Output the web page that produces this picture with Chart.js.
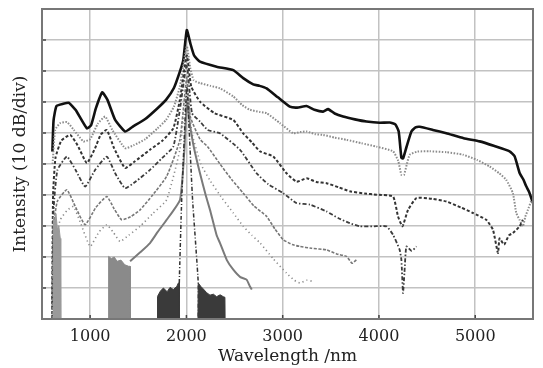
<!DOCTYPE html>
<html>
<head>
<meta charset="utf-8">
<script src="https://cdn.jsdelivr.net/npm/chart.js@4.4.1/dist/chart.umd.min.js"></script>
<style>
  body { margin: 0; background: #fff; }
</style>
</head>
<body>
<canvas id="spec" width="543" height="368"></canvas>
<script>
// tick positions (nm) and levels (10 dB per division)
const xTicks = [1000, 2000, 3000, 4000, 5000];
const yTicks = [0, 10, 20, 30, 40, 50, 60, 70, 80, 90, 100];

// spectra: [wavelength nm, level]
const curveA = [[608,54],[620,64],[650,68.7],[720,69.4],[780,69.7],[850,67.4],[966,61.5],[1010,62.5],[1060,68],[1125,73.1],[1180,70.7],[1260,64.2],[1363,60.5],[1440,62],[1572,64.5],[1700,68],[1788,70.7],[1870,74.5],[1932,79.8],[1968,83.6],[2004,93.2],[2040,89],[2080,85],[2141,83],[2314,81.4],[2487,80.3],[2590,77.7],[2694,75.7],[2760,75.2],[2833,74.4],[2950,71.5],[3074,68.5],[3150,68.2],[3248,68.7],[3330,67.5],[3420,66.9],[3472,67.7],[3540,66.3],[3628,65.3],[3750,64.4],[3870,63.7],[4008,63.3],[4112,63.4],[4170,62.8],[4205,60.5],[4233,52],[4250,51.8],[4285,55.4],[4337,60.5],[4380,61.8],[4423,62],[4560,61],[4700,59.9],[4880,58.3],[5046,57.3],[5200,55.8],[5357,54.1],[5409,52.5],[5461,47.1],[5500,45],[5530,42.8],[5560,41],[5600,37.4]];
const curveB = [[610,50],[637,61],[689,63.2],[760,63.5],[830,61],[931,57.3],[1000,58],[1080,63],[1156,65.3],[1230,61],[1363,55.1],[1450,56],[1572,58],[1700,61.5],[1788,64.2],[1870,68.5],[1932,75],[2004,88],[2040,81],[2076,77],[2141,76.1],[2250,75.2],[2349,74.4],[2487,71.8],[2580,69],[2660,67.5],[2760,66.8],[2833,66.4],[2971,63.2],[3109,59.9],[3180,60.3],[3248,60.5],[3340,59.6],[3420,59.4],[3540,58.5],[3663,57.8],[3820,56.7],[3974,55.6],[4146,54.1],[4200,51],[4233,46.5],[4260,46.5],[4290,50],[4320,53],[4400,54],[4527,54.1],[4700,53.8],[4873,53],[5020,51.3],[5149,49.2],[5250,47],[5322,44.9],[5391,40.6],[5426,34.2],[5460,32],[5495,29.9],[5520,33],[5547,35.2],[5580,38]];
const curveC = [[605,0],[615,40],[640,52],[700,57.5],[793,59.4],[870,56],[966,50.3],[1050,55],[1110,59.5],[1173,61],[1250,55],[1363,48.7],[1450,50.5],[1622,54.6],[1750,57.5],[1864,61.5],[1932,70.7],[2004,85],[2050,75],[2141,70.1],[2292,66.4],[2487,64.2],[2590,59.9],[2680,57],[2763,54.1],[2902,52.4],[3040,47],[3144,44.3],[3248,45.4],[3350,44.2],[3455,43.8],[3580,42.5],[3697,41.2],[3850,40.5],[3974,40.1],[4146,39.5],[4198,33.1],[4244,29.9],[4302,35.2],[4389,39],[4550,38.8],[4700,37.9],[4850,36],[4976,34.2],[5114,32],[5184,28.8],[5236,21.3],[5253,26],[5300,24],[5350,27],[5391,27.7],[5461,29.9],[5495,32]];
const curveD = [[605,0],[620,35],[660,48],[758,52.4],[850,48],[948,42.7],[1050,48],[1173,52.4],[1260,47],[1363,42.2],[1480,44.5],[1622,48.1],[1750,52],[1864,55.6],[1932,67.5],[2004,82],[2058,66.4],[2141,63.7],[2220,61],[2349,59.9],[2556,54.6],[2729,47],[2850,43.5],[3005,40.6],[3144,37.4],[3282,36.9],[3455,34.7],[3580,32.5],[3697,30.9],[3801,29.9],[3950,29.9],[4078,29.9],[4146,27.2],[4215,22.3],[4233,19.1],[4250,8.4],[4265,15],[4285,23.4],[4340,22],[4389,23.4]];
const curveE = [[605,0],[620,30],[660,38],[758,41.7],[850,36],[948,30.4],[1060,36],[1173,39.5],[1250,35.5],[1328,32],[1420,33],[1519,35.2],[1650,40],[1795,46],[1932,57.8],[2004,78],[2040,65.3],[2141,58],[2220,55.6],[2349,50],[2470,45],[2590,40.6],[2700,36.5],[2833,33.1],[2920,29],[3005,25.6],[3100,24],[3178,23.4],[3300,22.8],[3455,22.3],[3560,21],[3663,20.2],[3720,18],[3766,19.1]];
const curveF = [[620,0],[640,25],[689,32],[760,35],[827,36.3],[900,31],[1000,23.4],[1090,28],[1173,30.4],[1240,28],[1311,25],[1400,27],[1519,29.9],[1650,34],[1795,38.5],[1932,54.6],[2004,74],[2058,59.9],[2150,50],[2245,44.7],[2370,39],[2487,34.2],[2590,29.9],[2680,27],[2763,24.6],[2900,19.5],[3040,14.8],[3120,12.5],[3178,11.6],[3250,12.5],[3316,12.1]];
const curveG = [[1415,18.6],[1520,21.5],[1622,24.5],[1700,28],[1795,32],[1934,38.5],[1980,55],[2004,70],[2040,62],[2080,55],[2141,47],[2200,40],[2245,35.2],[2314,27],[2349,24.5],[2420,19],[2487,15.9],[2560,13.5],[2625,12.7],[2660,10.5],[2680,9.5]];
const pump = [[1926,0],[1926,11.6],[1951,38.5],[1980,60],[2005,75],[2030,60],[2064,38.5],[2123,11.6],[2123,0]];

// noise floor patches
const floorVis = [[615,0],[618,33],[630,31],[645,34],[660,29],[675,30],[690,26],[695,0]];
const floorNir = [[1190,0],[1192,20.2],[1220,19.5],[1250,20],[1280,18.6],[1320,19],[1360,17.5],[1400,17],[1415,17],[1417,0]];
const floorPumpL = [[1698,0],[1700,7.3],[1730,9],[1761,10],[1800,8.8],[1830,10.2],[1864,9.5],[1900,10.5],[1916,11.6],[1925,11.6],[1927,0]];
const floorPumpR = [[2120,0],[2123,11.6],[2150,10.5],[2175,9.7],[2210,8.5],[2245,7.7],[2280,8],[2314,7.2],[2350,7.8],[2383,7.2],[2400,7],[2402,0]];

const pts = arr => arr.map(([x, y]) => ({ x, y }));

function line(data, color, width, dash) {
    return {
        data: pts(data),
        borderColor: color,
        borderWidth: width,
        borderDash: dash,
        pointRadius: 0,
        tension: 0.15,
        fill: false
    };
}

function patch(data, color) {
    return {
        data: pts(data),
        borderColor: color,
        backgroundColor: color,
        borderWidth: 1,
        pointRadius: 0,
        tension: 0,
        fill: 'origin'
    };
}

// frame and the short inward ticks
const framePlugin = {
    id: 'frame',
    afterDatasetsDraw(chart) {
        const { ctx, chartArea: a, scales: { x, y } } = chart;
        ctx.save();
        ctx.strokeStyle = '#444';
        ctx.lineWidth = 1.5;
        yTicks.forEach(v => {
            const py = y.getPixelForValue(v);
            ctx.beginPath(); ctx.moveTo(a.left, py); ctx.lineTo(a.left + 4, py); ctx.stroke();
        });
        xTicks.forEach(v => {
            const px = x.getPixelForValue(v);
            ctx.beginPath(); ctx.moveTo(px, a.bottom); ctx.lineTo(px, a.bottom - 4); ctx.stroke();
        });
        ctx.strokeStyle = '#777';
        ctx.lineWidth = 2;
        ctx.strokeRect(a.left, a.top, a.right - a.left, a.bottom - a.top);
        ctx.restore();
    }
};

const serif = "'DejaVu Serif', serif";

new Chart(document.getElementById('spec'), {
    type: 'line',
    data: {
        datasets: [
            patch(floorVis, '#9a9a9a'),
            patch(floorNir, '#8a8a8a'),
            patch(floorPumpL, '#3a3a3a'),
            patch(floorPumpR, '#3a3a3a'),
            line(pump, '#333', 1.5, [4, 2, 1, 2]),
            line(curveG, '#7a7a7a', 2, []),
            line(curveF, '#8a8a8a', 1.6, [1.2, 3]),
            line(curveE, '#777', 1.6, [3, 1.5]),
            line(curveD, '#3c3c3c', 1.8, [4, 2, 1.5, 2]),
            line(curveC, '#333', 2, [3, 2]),
            line(curveB, '#8c8c8c', 2, [1.5, 1.5]),
            line(curveA, '#111', 2.6, [])
        ]
    },
    options: {
        responsive: false,
        animation: false,
        layout: { padding: { top: 9, right: 10, left: 0, bottom: 0 } },
        plugins: { legend: { display: false }, tooltip: { enabled: false } },
        scales: {
            x: {
                type: 'linear',
                min: 500,
                max: 5600,
                afterBuildTicks: s => { s.ticks = xTicks.map(v => ({ value: v })); },
                afterFit: s => { s.height = 49; },
                grid: { color: '#c2c2c2', lineWidth: 1.5, drawTicks: false },
                border: { display: false },
                ticks: { color: '#222', padding: 8, font: { family: serif, size: 16 }, callback: v => String(v) },
                title: { display: true, text: 'Wavelength /nm', color: '#222', font: { family: serif, size: 17 }, padding: { top: 0, bottom: 1 } }
            },
            y: {
                type: 'linear',
                min: 0,
                max: 100,
                afterBuildTicks: s => { s.ticks = yTicks.map(v => ({ value: v })); },
                afterFit: s => { s.width = 42; },
                grid: { color: '#c2c2c2', lineWidth: 1.5, drawTicks: false },
                border: { display: false },
                ticks: { display: false },
                title: { display: true, text: 'Intensity (10 dB/div)', color: '#222', font: { family: serif, size: 17 }, padding: { top: 10, bottom: 0 } }
            }
        }
    },
    plugins: [framePlugin]
});
</script>
</body>
</html>
